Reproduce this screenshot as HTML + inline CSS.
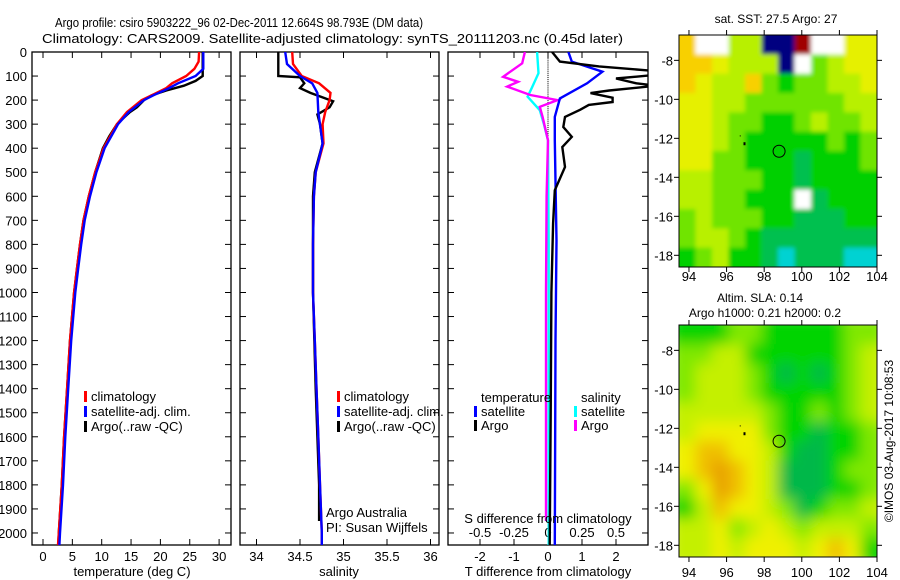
<!DOCTYPE html>
<html><head><meta charset="utf-8">
<style>
html,body{margin:0;padding:0;background:#fff;}
svg{display:block;font-family:"Liberation Sans",sans-serif;}
text{fill:#000;}
</style></head>
<body>
<svg id="chart" width="900" height="580" viewBox="0 0 900 580" xmlns="http://www.w3.org/2000/svg">
<text x="55" y="27" font-size="13" textLength="368" lengthAdjust="spacingAndGlyphs">Argo profile: csiro 5903222_96 02-Dec-2011 12.664S 98.793E (DM data)</text>
<text x="42" y="43" font-size="13" textLength="581" lengthAdjust="spacingAndGlyphs">Climatology: CARS2009. Satellite-adjusted climatology: synTS_20111203.nc (0.45d later)</text>
<g id="plots"></g>
<text x="776" y="23" font-size="12" text-anchor="middle">sat. SST: 27.5  Argo: 27</text>
<text x="760" y="302" font-size="12" text-anchor="middle">Altim. SLA: 0.14</text>
<text x="765" y="317" font-size="12" text-anchor="middle">Argo h1000: 0.21 h2000: 0.2</text>
<text transform="translate(893,441) rotate(-90)" font-size="12" text-anchor="middle">©IMOS 03-Aug-2017 10:08:53</text>
</svg>
<script>
const NS="http://www.w3.org/2000/svg";
// ---------- data ----------
const depthTicks=[0,100,200,300,400,500,600,700,800,900,1000,1100,1200,1300,1400,1500,1600,1700,1800,1900,2000];
const tempTicks=[0,5,10,15,20,25,30];
const salTicks=[34,34.5,35,35.5,36];
const dTTicks=[-2,-1,0,1,2];
const dSTicks=[-0.5,-0.25,0,0.25,0.5];
const dSTickLabels=["-0.5","-0.25","0","0.25","0.5"];

const tClimDepth=[0,40,70,100,130,150,180,200,250,300,400,500,600,700,800,900,1000,1200,1400,1600,1800,2000,2050];
const tClimVal=[26.6,26.5,25.8,24.4,22,21,18.5,16.8,14.3,12.6,10.3,8.9,7.8,6.9,6.3,5.8,5.3,4.6,4.1,3.6,3.2,2.7,2.55];
const tSatDepth=[0,70,100,130,150,180,200,250,300,400,500,600,700,800,900,1000,1200,1400,1600,1800,2000,2050];
const tSatVal=[27.3,27.3,26,23,21.5,18.8,17.2,14.6,12.8,10.5,9.1,8.0,7.1,6.5,6.0,5.5,4.8,4.3,3.8,3.4,2.9,2.8];
const tArgoDepth=[0,100,120,140,160,180,200,230,250,300,350,400,500,600,700,800,900,1000,1200,1400,1600,1800,2000,2050];
const tArgoVal=[27.2,27.2,26,24,21,18.5,17.2,16,14.8,12.6,11.3,10.2,8.9,7.8,6.9,6.3,5.8,5.3,4.6,4.1,3.6,3.2,2.7,2.6];

const sClimDepth=[0,50,100,130,170,200,250,300,380,500,600,800,1000,1200,1400,1600,1800,2000,2050];
const sClimVal=[34.41,34.42,34.52,34.72,34.85,34.84,34.79,34.76,34.77,34.68,34.66,34.65,34.65,34.67,34.69,34.71,34.73,34.75,34.75];
const sSatDepth=[0,50,100,130,170,250,380,500,600,800,1000,1200,1400,1600,1800,2000,2050];
const sSatVal=[34.33,34.35,34.5,34.64,34.7,34.71,34.76,34.68,34.66,34.65,34.65,34.67,34.69,34.71,34.73,34.75,34.75];
const sArgoDepth=[0,100,105,130,150,170,205,230,260,300,380,500,600,800,1000,1400,1800,1950];
const sArgoVal=[34.25,34.25,34.5,34.55,34.5,34.62,34.88,34.84,34.7,34.73,34.76,34.67,34.65,34.65,34.65,34.68,34.72,34.72];

const dTSatDepth=[0,40,82,130,193,270,367,783,1200,2050];
const dTSatVal=[0.6,0.7,1.6,1.15,0.35,0.2,0.2,0.25,0.22,0.2];
const dTArgoDepth=[0,40,60,80,95,110,130,140,160,171,190,208,220,240,270,312,353,395,478,575,712,1000,1500,2050];
const dTArgoVal=[0.12,0.35,1.5,3.2,3.2,2.0,2.6,3.2,1.8,1.25,1.9,1.9,1.2,0.95,0.5,0.45,0.7,0.42,0.5,0.2,0.15,0.1,0.08,0.05];
const dSSatDepth=[0,88,150,186,242,300,367,800,1400,2050];
const dSSatVal=[-0.08,-0.07,-0.12,-0.15,-0.06,-0.03,0,0.005,0.005,0.005];
const dSArgoDepth=[0,47,103,124,144,179,200,228,270,367,600,1000,1500,1950];
const dSArgoVal=[-0.17,-0.19,-0.33,-0.22,-0.3,-0.13,0.07,-0.06,-0.04,0,-0.01,-0.015,-0.015,-0.015];

const lonTicks=[94,96,98,100,102,104];
const latTicks=[-8,-10,-12,-14,-16,-18];
const sstGrid=[
[6,8,8,4,4,9,9,10,8,8,5,5],
[6,6,5,4,4,4,9,8,3,4,5,5],
[6,5,4,4,6,3,2,3,3,4,4,5],
[5,5,4,4,3,3,3,3,3,3,4,4],
[5,5,4,3,3,2,2,3,4,3,3,4],
[5,5,4,3,2,2,2,2,2,3,2,3],
[5,5,3,3,2,2,2,1,2,2,2,3],
[4,4,3,3,3,2,2,1,2,2,2,2],
[4,4,3,3,2,2,2,8,1,2,2,2],
[3,4,3,3,3,2,2,1,1,1,2,2],
[3,4,4,3,2,1,1,1,1,1,1,1],
[2,3,4,2,2,1,0,1,1,1,0,0]];
const slaGrid=[
[2,2,2,3,3,2,2,2,2,2,3,3],
[3,3,4,4,2,2,2,2,2,2,3,4],
[3,4,4,4,3,2,1,2,1,2,3,4],
[3,4,4,4,3,2,2,2,2,2,3,4],
[4,4,4,4,4,3,2,2,3,2,3,4],
[4,5,5,5,5,3,2,2,1,2,2,3],
[5,6,6,5,5,4,2,1,1,2,2,3],
[5,6,7,6,5,4,1,1,1,2,3,3],
[3,5,7,6,5,4,1,1,1,2,2,3],
[2,4,6,5,5,4,3,1,2,3,3,4],
[4,4,5,3,4,5,4,3,4,4,4,3],
[4,4,5,4,5,5,5,4,5,6,5,2]];
const floatLon=98.793, floatLat=-12.664;

// ---------- helpers ----------
const root=document.getElementById('plots');
function el(tag,attrs,parent){const e=document.createElementNS(NS,tag);for(const k in attrs)e.setAttribute(k,attrs[k]);(parent||root).appendChild(e);return e;}
const TOP=52,BOT=545;
const yD=d=>TOP+(d/2050)*(BOT-TOP);
const xT=v=>43+5.87*v;
const xS=v=>300+87*(v-34.5);
const xDT=v=>548+34*v;
const xDS=v=>548+136*v;

function frame(x0,x1,name){
  const r=el('rect',{x:x0,y:TOP,width:x1-x0,height:BOT-TOP,fill:'none',stroke:'#000','stroke-width':1.3});
  
  
  depthTicks.forEach(d=>{
    el('line',{x1:x0,x2:x0+6,y1:yD(d),y2:yD(d),stroke:'#000'});
    el('line',{x1:x1,x2:x1-6,y1:yD(d),y2:yD(d),stroke:'#000'});
  });
}
function line(depths,vals,xf,color,name,w,clip){
  const pts=depths.map((d,i)=>xf(vals[i]).toFixed(1)+','+yD(d).toFixed(1)).join(' ');
  const p=el('polyline',{points:pts,fill:'none',stroke:color,'stroke-width':w||2.4,'clip-path':clip||''});
  
  
}
function txt(x,y,s,opt,name){
  const t=el('text',Object.assign({x:x,y:y,'font-size':12},opt||{}));
  t.textContent=s;
  
  
  return t;
}
function legMark(x,y,color,name){
  const r=el('rect',{x:x,y:y-10,width:3,height:11,fill:color});
  
  
}

const defs=el('defs',{});
const cp=el('clipPath',{id:'c3'},defs);
el('rect',{x:448,y:TOP,width:200,height:BOT-TOP},cp);
const cm1=el('clipPath',{id:'cm1'},defs);
el('rect',{x:679,y:35,width:198,height:232},cm1);
const cm2=el('clipPath',{id:'cm2'},defs);
el('rect',{x:679,y:325,width:198,height:232},cm2);
const fb1=el('filter',{id:'blur1',x:'-10%',y:'-10%',width:'120%',height:'120%'},defs);
el('feGaussianBlur',{stdDeviation:'2'},fb1);
const fb2=el('filter',{id:'blur2',x:'-10%',y:'-10%',width:'120%',height:'120%'},defs);
el('feGaussianBlur',{stdDeviation:'7'},fb2);

// ----- panel 1: temperature -----
frame(32,231,'temperature-panel-frame');
depthTicks.forEach(d=>{txt(27,yD(d)+5,String(d),{'text-anchor':'end','font-size':13},'depth-tick-label');});
tempTicks.forEach(v=>{
  el('line',{x1:xT(v),x2:xT(v),y1:BOT,y2:BOT-6,stroke:'#000'});
  el('line',{x1:xT(v),x2:xT(v),y1:TOP,y2:TOP+6,stroke:'#000'});
  txt(xT(v),561,String(v),{'text-anchor':'middle','font-size':13},'temperature-tick-label');
});
txt(132,576,'temperature (deg C)',{'text-anchor':'middle','font-size':13},'temperature-axis-title');
line(tArgoDepth,tArgoVal,xT,'#000','temperature-argo-line');
line(tClimDepth,tClimVal,xT,'#f00','temperature-climatology-line');
line(tSatDepth,tSatVal,xT,'#00f','temperature-satellite-line');
legMark(84,401,'#f00','legend-climatology-mark');txt(91,401,'climatology',{'font-size':13},'legend-climatology');
legMark(84,416,'#00f','legend-satellite-mark');txt(91,416,'satellite-adj. clim.',{'font-size':13},'legend-satellite');
legMark(84,431,'#000','legend-argo-mark');txt(91,431,'Argo(..raw -QC)',{'font-size':13},'legend-argo');

// ----- panel 2: salinity -----
frame(240,439,'salinity-panel-frame');
salTicks.forEach(v=>{
  el('line',{x1:xS(v),x2:xS(v),y1:BOT,y2:BOT-6,stroke:'#000'});
  el('line',{x1:xS(v),x2:xS(v),y1:TOP,y2:TOP+6,stroke:'#000'});
  txt(xS(v),561,String(v),{'text-anchor':'middle','font-size':13},'salinity-tick-label');
});
txt(339,576,'salinity',{'text-anchor':'middle','font-size':13},'salinity-axis-title');
line(sArgoDepth,sArgoVal,xS,'#000','salinity-argo-line');
line(sClimDepth,sClimVal,xS,'#f00','salinity-climatology-line');
line(sSatDepth,sSatVal,xS,'#00f','salinity-satellite-line');
legMark(337,401,'#f00','legend-sal-climatology-mark');txt(344,401,'climatology',{'font-size':13},'legend-sal-climatology');
legMark(337,416,'#00f','legend-sal-satellite-mark');txt(344,416,'satellite-adj. clim.',{'font-size':13},'legend-sal-satellite');
legMark(337,431,'#000','legend-sal-argo-mark');txt(344,431,'Argo(..raw -QC)',{'font-size':13},'legend-sal-argo');
txt(326,517,'Argo Australia',{'font-size':13},'argo-australia-label');
txt(326,532,'PI: Susan Wijffels',{'font-size':13},'pi-label');

// ----- panel 3: differences -----
frame(448,648,'difference-panel-frame');
for(let d=0;d<=2050;d+=8){el('rect',{x:547.5,y:yD(d),width:1,height:1,fill:'#000'});}
dTTicks.forEach(v=>{
  el('line',{x1:xDT(v),x2:xDT(v),y1:BOT,y2:BOT-6,stroke:'#000'});
  el('line',{x1:xDT(v),x2:xDT(v),y1:TOP,y2:TOP+6,stroke:'#000'});
  txt(xDT(v),561,String(v),{'text-anchor':'middle','font-size':13},'dT-tick-label');
});
dSTicks.forEach((v,i)=>{
  txt(xDS(v),537,dSTickLabels[i],{'text-anchor':'middle','font-size':13},'dS-tick-label');
});
txt(548,576,'T difference from climatology',{'text-anchor':'middle','font-size':13},'dT-axis-title');
line(dSSatDepth,dSSatVal,xDS,'#0ff','dS-satellite-line',2.4,'url(#c3)');
line(dSArgoDepth,dSArgoVal,xDS,'#f0f','dS-argo-line',2.4,'url(#c3)');
line(dTSatDepth,dTSatVal,xDT,'#00f','dT-satellite-line',2.4,'url(#c3)');
line(dTArgoDepth,dTArgoVal,xDT,'#000','dT-argo-line',2.4,'url(#c3)');
txt(548,523,'S difference from climatology',{'text-anchor':'middle','font-size':13},'dS-axis-title');
txt(481,402,'temperature',{'font-size':13},'legend-temperature-header');
txt(581,402,'salinity',{'font-size':13},'legend-salinity-header');
legMark(474,416,'#00f','legend-dT-satellite-mark');txt(481,416,'satellite',{'font-size':13},'legend-dT-satellite');
legMark(474,430,'#000','legend-dT-argo-mark');txt(481,430,'Argo',{'font-size':13},'legend-dT-argo');
legMark(574,416,'#0ff','legend-dS-satellite-mark');txt(581,416,'satellite',{'font-size':13},'legend-dS-satellite');
legMark(574,430,'#f0f','legend-dS-argo-mark');txt(581,430,'Argo',{'font-size':13},'legend-dS-argo');

// ----- maps -----
const sstColors=['#00d2d2','#00c050','#00d000','#70e400','#b8f000','#e6f000','#f8d000','#f0a000','#ffffff','#000080','#a00000'];
const slaColors=['#00d2d2','#00b848','#00d400','#80e800','#c4f000','#f0f000','#f0c000','#e8a000'];
function drawMap(grid,colors,y0,name,labelY,clipId,filterId){
  const x0=679,x1=877,y1=y0+232;
  const lonX=v=>x0+(v-93.47)*(x1-x0)/(104-93.47);
  const latY=v=>y0+(-6.7-v)*(y1-y0)/(18.6-6.7);
  const nr=grid.length,nc=grid[0].length;
  const cw=(x1-x0)/nc,ch=(y1-y0)/nr;
  const g=el('g',{});
  
  
  const cg=el('g',{'clip-path':'url(#'+clipId+')'},g);
  const bg=el('g',{filter:'url(#'+filterId+')'},cg);
  grid.forEach((row,r)=>row.forEach((v,c)=>{
    const cell=el('rect',{x:x0+c*cw-(c===0?10:0),y:y0+r*ch-(r===0?10:0),width:cw+0.5+(c===0||c===nc-1?10:0),height:ch+0.5+(r===0||r===nr-1?10:0),fill:colors[v]},bg);
    
    
  }));
  el('rect',{x:x0,y:y0,width:x1-x0,height:y1-y0,fill:'none',stroke:'#000','stroke-width':1},g);
  lonTicks.forEach(v=>{
    el('line',{x1:lonX(v),x2:lonX(v),y1:y0,y2:y0-5,stroke:'#000'},g);
    el('line',{x1:lonX(v),x2:lonX(v),y1:y1,y2:y1+5,stroke:'#000'},g);
    txt(lonX(v),labelY,String(v),{'text-anchor':'middle','font-size':13},'map-lon-tick-label');
  });
  latTicks.forEach(v=>{
    el('line',{x1:x0,x2:x0-5,y1:latY(v),y2:latY(v),stroke:'#000'},g);
    el('line',{x1:x1,x2:x1+5,y1:latY(v),y2:latY(v),stroke:'#000'},g);
    txt(x0-6,latY(v)+5,String(v),{'text-anchor':'end','font-size':13},'map-lat-tick-label');
  });
  const c=el('circle',{cx:lonX(floatLon),cy:latY(floatLat),r:6,fill:'none',stroke:'#000','stroke-width':1},g);
  
  
  el('rect',{x:lonX(96.9),y:latY(-12.2),width:2,height:3,fill:'#000'},g);
  el('rect',{x:lonX(96.7),y:latY(-11.85),width:1,height:1,fill:'#000'},g);
}
drawMap(sstGrid,sstColors,35,'sst-map',281,'cm1','blur1');
drawMap(slaGrid,slaColors,325,'sla-map',577,'cm2','blur2');
</script>
</body></html>
